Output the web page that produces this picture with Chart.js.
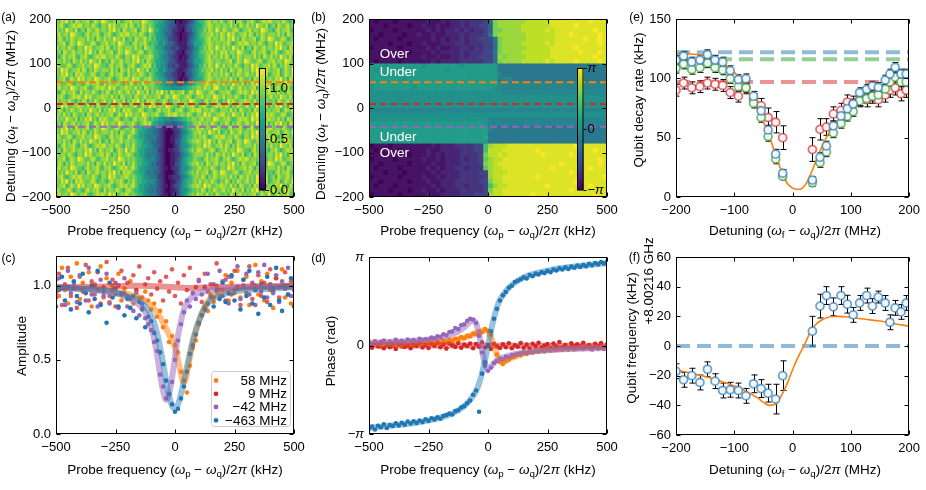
<!DOCTYPE html>
<html>
<head>
<meta charset="utf-8">
<title>Probe spectroscopy figure</title>
<script src="https://cdn.jsdelivr.net/npm/chart.js@4.4.1/dist/chart.umd.min.js"></script>
<style>
html,body{margin:0;padding:0;background:#ffffff;}
#wrap{position:relative;width:926px;height:490px;overflow:hidden;background:#fff;}
#wrap canvas{position:absolute;left:0;top:0;}
</style>
</head>
<body>
<div id="wrap">
<canvas id="pa" width="926" height="490"></canvas>
<canvas id="pb" width="926" height="490"></canvas>
<canvas id="pc" width="926" height="490"></canvas>
<canvas id="pd" width="926" height="490"></canvas>
<canvas id="pe" width="926" height="490"></canvas>
<canvas id="pf" width="926" height="490"></canvas>
</div>
<script>
// ===================== DATA =====================
const probeTicks = [-500, -250, 0, 250, 500];
const detTicks = [-200, -100, 0, 100, 200];
const ampTicks = [0, 0.5, 1.0];
const phaseTicks = [-Math.PI, 0, Math.PI];
const gammaTicks = [0, 50, 100, 150];
const freqTicks = [-60, -40, -20, 0, 20, 40, 60];
const cutDetunings = [58, 9, -42];               // MHz, dashed cuts in (a),(b)
const legendLabels = ['58 MHz', '9 MHz', '\u221242 MHz', '\u2212463 MHz'];

// (a) amplitude map: rows from +200 MHz (top) to -200 MHz, 10 MHz each;
// 100 columns -500..500 kHz (10 kHz each); letter a..m = 0.0..1.2
const ampMapRows = [
"kjlkmjkilk jkklijlkjm lkjjklkijk kljkkjmlkj jiihhgfeed bbabbcdegh iijkljkkjl jikljkklji kkljijklkl ljkkjlkjik",
"kkljijklkl ljkkjlkjik kjmkljjkkl jlkikjlkjk jihhggfedd cbbbcdefgh hijklkjkkj kkjljkilkj ljkjmkkjli jkilkjkljk",
"ljkjmkkjli jkilkjkljk kjlkmjkilk jkklijlkjm kiihgffedc cbbacddfgh iikjlkjmkj lkjjklkijk kljkkjmlkj jikljkklji",
"kljkkjmlkj jikljkklji kkljijklkl ljkkjlkjik jihhgfeedc bbabbcdegh ijjkkljkjl kjmkljjkkl jlkikjlkjk kkjljkilkj",
"jlkikjlkjk kkjljkilkj ljkjmkkjli jkilkjkljk ijhhggfddc cbabbcefgh iijkljkkjl kjlkmjkilk jkklijlkjm lkjjklkijk",
"jkklijlkjm lkjjklkijk kljkkjmlkj jikljkklji jiigghfeed cbbbbdefhh hijklkjkkj kkljijklkl ljkkjlkjik kjmkljjkkl",
"ljkkjlkjik kjmkljjkkl jlkikjlkjk kkjljkilkj jihhgfeedc dcbbbcdegg iikjlkjmkj ljkjmkkjli jkilkjkljk kjlkmjkilk",
"jkilkjkljk kjlkmjkilk jkklijlkjm lkjjklkijk jiihhgfeed cbbacddfgh ijjkkljkjl kljkkjmlkj jikljkklji kkljijklkl",
"jikljkklji kkljijklkl ljkkjlkjik kjmkljjkkl kiihgffedc cbabbcefgh iijkljkkjl jlkikjlkjk kkjljkilkj ljkjmkkjli",
"kkjljkilkj ljkjmkkjli jkilkjkljk kjlkmjkilk jihhggfedd cbbbbdefhh hijklkjkkj jkklijlkjm lkjjklkijk kljkkjmlkj",
"lkjjklkijk kljkkjmlkj jikljkklji kkljijklkl ijhhggfddc dcbbbcdegg iikjlkjmkj ljkkjlkjik kjmkljjkkl jlkikjlkjk",
"kjmkljjkkl jlkikjlkjk kkjljkilkj ljkjmkkjli jiigghfeed cbbbcdefgh ijjkkljkjl jkilkjkljk kjlkmjkilk jkklijlkjm",
"kjlkmjkilk lkjjklkijk jikljkklji ljkkjlkjik jihhgfeedc cbbacddfgh iijkljkkjl jlkikjlkjk ljkjmkkjli jkklijlkjm",
"jkklijlkjm kljkkjmlkj kkljijklkl kjmkljjkkl jiihhgfeed cbabbcefgh hijklkjkkj kkjljkilkj jkilkjkljk kjlkmjkilk",
"lkjjklkijk jikljkklji ljkkjlkjik jlkikjlkjk kjiihhggff eddefgghij jjklkjlkkj ljkjmkkjli kjlkmjkilk kljkkjmlkj",
"kljkkjmlkj kkljijklkl kjmkljjkkl kkjljkilkj kjjiihhhgg ggghhiijjk kjlkkjlmkj jkilkjkljk jkklijlkjm jikljkklji",
"jikljkklji ljkkjlkjik jlkikjlkjk ljkjmkkjli kjlkmjkilk jkklijlkjm lkjjklkijk kkljijklkl kjmkljjkkl kkjljkilkj",
"kkljijklkl kjmkljjkkl kkjljkilkj jkilkjkljk jkklijlkjm lkjjklkijk kljkkjmlkj ljkkjlkjik jlkikjlkjk ljkjmkkjli",
"ljkkjlkjik jlkikjlkjk ljkjmkkjli kjlkmjkilk lkjjklkijk kljkkjmlkj jikljkklji kjmkljjkkl kkjljkilkj jkilkjkljk",
"kjmkljjkkl kkjljkilkj jkilkjkljk jkklijlkjm kljkkjmlkj jikljkklji kkljijklkl jlkikjlkjk ljkjmkkjli kjlkmjkilk",
"jlkikjlkjk ljkjmkkjli kjlkmjkilk lkjjklkijk jikljkklji kkljijklkl ljkkjlkjik kkjljkilkj jkilkjkljk jkklijlkjm",
"kkjljkilkj jkilkjkljk jkklijlkjm kljkkjmlkj kkljijklkl ljkkjlkjik kjmkljjkkl ljkjmkkjli kjlkmjkilk lkjjklkijk",
"ljkjmkkjli kjlkmjkilk lkjjklkijk jikljkklji jiihhgggfg ghhiijjkkj kljkkjmlkj kkljijklkl kjmkljjkkl kkjljkilkj",
"jkilkjkljk jkklijlkjm kljkkjmlkj kkljijklkl ihhggfeeed effghiijkk ljkkjlkjik jlkikjlkjk ljkjmkkjli kjlkmjkilk",
"kjlkmjkilk jkklijlkjm lkjjklkijk kjljiihhgg ffedcbbabc cdfghijkjl kljkkjmlkj jikljkklji kkljijklkl ljkkjlkjik",
"kjmkljjkkl jlkikjlkjk kkjljkilkj jkljihhggf feedcbaaab ccefghijkk ljkjmkkjli jkilkjkljk kjlkmjkilk jkklijlkjm",
"lkjjklkijk kljkkjmlkj jikljkklji lkjiihhgff ffedcbaabb cdeghiijkj kkljijklkl ljkkjlkjik kjmkljjkkl jlkikjlkjk",
"kkjljkilkj ljkjmkkjli jkilkjkljk kjkjiihggf efddcbaabb ddfghijkkl kjlkmjkilk jkklijlkjm lkjjklkijk kljkkjmlkj",
"jikljkklji kkljijklkl ljkkjlkjik kjljiihhgg feedcbaaab cdfgghijjk kjmkljjkkl jlkikjlkjk kkjljkilkj ljkjmkkjli",
"jkilkjkljk kjlkmjkilk jkklijlkjm jkljihhggf ffeccbabbc cdfghijkjl lkjjklkijk kljkkjmlkj jikljkklji kkljijklkl",
"ljkkjlkjik kjmkljjkkl jlkikjlkjk lkjiihhgff ffedcbaabb ccefghijkk kkjljkilkj ljkjmkkjli jkilkjkljk kjlkmjkilk",
"jkklijlkjm lkjjklkijk kljkkjmlkj kjkjiihggf gfedcbaabb cdeghiijkj jikljkklji kkljijklkl ljkkjlkjik kjmkljjkkl",
"jlkikjlkjk kkjljkilkj ljkjmkkjli kjljiihhgg efddcbaabb ddfghijkkl jkilkjkljk kjlkmjkilk jkklijlkjm lkjjklkijk",
"kljkkjmlkj jikljkklji kkljijklkl jkljihhggf ffedcbbabc cdfgghijjk ljkkjlkjik kjmkljjkkl jlkikjlkjk kkjljkilkj",
"ljkjmkkjli jkilkjkljk kjlkmjkilk lkjiihhgff feedcbaaab cdfghijkjl jkklijlkjm lkjjklkijk kljkkjmlkj jikljkklji",
"kkljijklkl ljkkjlkjik kjmkljjkkl kjkjiihggf ffeccbabbc ccefghijkk jlkikjlkjk kkjljkilkj ljkjmkkjli jkilkjkljk",
"kjlkmjkilk lkjjklkijk jikljkklji kjljiihhgg gfedcbaabb cdeghiijkj ljkkjlkjik jlkikjlkjk ljkjmkkjli jkklijlkjm",
"jkklijlkjm kljkkjmlkj kkljijklkl jkljihhggf ffedcbbabc ddfghijkkl kjmkljjkkl kkjljkilkj jkilkjkljk kjlkmjkilk",
"lkjjklkijk jikljkklji ljkkjlkjik lkjiihhgff efddcbaabb cdfgghijjk jlkikjlkjk ljkjmkkjli kjlkmjkilk kljkkjmlkj",
"kljkkjmlkj kkljijklkl kjmkljjkkl kjkjiihggf ffedcbbabc cdfghijkjl kkjljkilkj jkilkjkljk jkklijlkjm jikljkklji"
];

// (b) phase map: rows +200..-200 MHz (10 MHz), 50 columns (20 kHz); letter a..u = -pi..+pi
const phaseMapRows = [
"babbbabbbb bbcbbcbccd cdddehqrrr rrrssssstt ttttttuttt",
"bbbabbbbab bcbbcbbccd cddeegqrrr rrsssssstt tttutttttt",
"abbbbabbbb bbcbcbccdc dcddegqqrr rrssssstst tttttttutt",
"bbabbbbabb cbbcbbcccd cdddehqrrr rrrsssssst ttutttttut",
"babbbbabbb bbbcbcbccd cddeeeiqrr rrrsssssst tttttuttut",
"bbbbabbbab bcbbbcccdd cdddeehqrr rrssssstst ttttttttut",
"abbbbbabbb bbcbcbbccd dcddeehqrr rrrssssstt tttutttttt",
"bbabbbbbab bbbcbccccd cdddeeiqrr rrsssssstt ttttutttut",
"bbbabbbabb bcbbcbbccd cddeeehrqr rrrssssstt tttttttutt",
"babbbbabbb bbbcbccccd ddddeehqrr rrssssstst tttuttttut",
"lllkllllll lklllllllk llllllliii iiiiiiiiii iiiiiiiiii",
"lkllllllll llllllklll llllllliii iiiiiiiiii iiiiiiiiii",
"llllllllll llllllllll llllllljii iiiiiiiiii iiiiiiiiii",
"lllllllkll llllllllll lllllllijj iiiiiiiiii iiiiiiiiii",
"llllllllll llllllllll lllllllkjj jjjjjjjjjj jjjjjjjjjj",
"kllllllllk llllllllll llllllkjjj jjjjjjjjjj jjjjjjjjjj",
"kkkkkkkkkk kkkkkkkkkk kkkkkkkkjj jjjjjjjjjj jjjjjjjjjj",
"kkkkkkkkkk kkkkkkkkkk kkkkkkkkkk kkkkkkkkkk kkkkkkkkkk",
"kkkkkkkkkk kkkkkkkkkk kkkkkkkkkk kkkkkkkkkk kkkkkkkkkk",
"kkkkkkkkkk kkkkkkkkkk kkkkkkkkkk kkkkkkkkkk kkkkkkkkkk",
"jjjjjjjjjj jjjjjjjjjj jjjjjjjjjj jjjjjjjjjj jjjjjjjjjj",
"kkkkkkkkkk kkkkkkkkkk kkkkkkkkkk kkkkkkkkkk kkkkkkkkkk",
"kkkkkkkkkk kkkkkkkkkk kkkkkjjjjj jjjjjjjjjj jjjjjjjjjj",
"llllllllll llllllllll llllkjjjjj jjjjjjjjjj jjjjjjjjjj",
"llllllllll llllllllll llllljiiii iiiiiiiiii iiiiiiiiii",
"llllllllll llllllllll llllliiiii iiiiiiiiii iiiiiiiiii",
"llllllllll llllllllll llllmiiiii iiiiiiiiii iiiiiiiiii",
"llllllllll llllllllll llllliiiii iiiiiiiiii iiiiiiiiii",
"abbbabbbbb bbbcbcccdd ddeeorssst tttttttttt tttutttttt",
"babbbbabbb bbcbbccccd ddeeossstt tttttutttt tttttttutt",
"bbbabbbbab bbcbcbcccd dddeqsstst ttttttuttt ttuttttttt",
"abbbbabbbb bcbbcbcccd cddeprsstt tttttttttt ttttutttut",
"bbabbbbbab bbbcbbcccd dddeqrsttt tttttttttt utttttttut",
"babbbbabbb bbcbcbccdd cdddprsstt ttttttttut ttttttuttt",
"bbbabbbabb bbbcbccccd dddeerssst tttttttttt ttuttttttt",
"abbbbbabbb bcbbcbcccd ddddersstt tttttutttt tttttttttu",
"bbabbbbbab bbcbbcccdd dddeeqsstt tttttttttt tttutttttt",
"babbbabbbb bbbcbcccdd cdddeorsst tttttttutt ttttttuttt",
"bbbbabbbab bcbbcbcccd ddddeqsstt tttttttttt ttuttttttt",
"abbbbbabbb bbcbbccccd ddeeersstt ttttuttttt tttttttutt"
];

// (c),(d) probe sweep (kHz)
const probeX = [-500,-487.5,-475,-462.5,-450,-437.5,-425,-412.5,-400,-387.5,-375,-362.5,-350,-337.5,-325,-312.5,-300,-287.5,-275,-262.5,-250,-237.5,-225,-212.5,-200,-187.5,-175,-162.5,-150,-137.5,-125,-112.5,-100,-87.5,-75,-62.5,-50,-37.5,-25,-12.5,0,12.5,25,37.5,50,62.5,75,87.5,100,112.5,125,137.5,150,162.5,175,187.5,200,212.5,225,237.5,250,262.5,275,287.5,300,312.5,325,337.5,350,362.5,375,387.5,400,412.5,425,437.5,450,462.5,475,487.5,500];

const amp58 = [1.04,0.93,1.12,0.97,0.88,1.06,0.99,1.15,0.91,1.02,0.95,1.09,0.86,1.01,0.97,1.13,0.92,1.05,0.89,1.0,0.94,1.08,0.9,0.98,0.93,1.03,0.88,0.97,0.92,0.85,0.96,0.9,0.84,0.88,0.79,0.83,0.72,0.76,0.62,0.66,0.6,0.55,0.42,0.36,0.28,0.46,0.58,0.63,0.74,0.8,0.86,0.83,0.94,0.89,1.0,0.93,0.97,1.07,0.9,1.02,0.95,1.1,0.92,0.99,1.06,0.87,1.01,1.14,0.94,1.03,0.9,1.08,0.97,0.85,1.05,0.99,1.11,0.92,1.0,0.88,1.04];
const amp9 = [0.95,1.08,0.87,1.01,1.12,0.93,0.98,0.85,1.06,0.96,1.14,0.9,1.03,0.94,1.09,0.88,0.99,1.16,0.93,1.04,0.86,1.0,1.1,0.95,1.02,0.91,1.07,0.97,1.13,0.92,1.01,1.05,0.94,1.09,0.98,1.03,0.9,1.06,0.96,1.11,0.93,1.02,0.88,1.07,0.97,1.12,0.95,0.99,1.04,0.89,1.08,0.96,1.01,0.92,1.15,0.97,1.03,0.9,1.06,0.94,1.1,0.98,0.87,1.04,0.95,1.13,0.91,1.0,1.07,0.93,1.02,0.89,1.11,0.96,1.05,0.92,1.0,1.09,0.94,1.03,0.97];
const ampM42 = [0.92,1.05,0.98,0.87,1.1,0.95,1.02,0.89,1.07,0.97,0.9,1.12,0.94,1.0,0.86,1.04,0.93,1.08,0.88,0.97,1.02,0.85,0.94,1.05,0.86,0.92,0.83,0.95,0.8,0.88,0.78,0.74,0.7,0.62,0.56,0.4,0.32,0.24,0.27,0.35,0.5,0.63,0.74,0.82,0.9,0.86,0.95,0.91,1.03,0.94,0.99,1.08,0.92,1.01,0.96,1.1,0.93,1.04,0.88,1.06,0.97,1.13,0.91,1.0,1.08,0.94,1.02,0.87,1.09,0.96,1.14,0.92,1.01,0.95,1.07,0.89,1.03,0.98,1.12,0.93,1.0];
const ampM463 = [0.86,0.97,1.06,0.9,0.99,0.84,1.03,0.93,0.88,1.08,0.95,0.82,1.0,0.91,1.1,0.87,0.96,0.75,1.02,0.92,0.98,0.86,0.95,0.8,0.91,0.85,0.93,0.78,0.89,0.84,0.72,0.79,0.76,0.68,0.63,0.55,0.47,0.36,0.27,0.2,0.15,0.17,0.24,0.32,0.42,0.54,0.6,0.67,0.75,0.8,0.84,0.88,0.93,0.86,0.97,0.91,1.02,0.89,0.95,1.07,0.9,0.99,0.84,1.04,0.93,1.1,0.88,0.97,0.81,1.01,0.92,1.06,0.87,0.98,1.12,0.9,0.83,1.0,0.94,1.05,0.86];

const fitAmpX58 = [-500,-400,-300,-200,-150,-100,-75,-50,-25,0,12.5,25,35,45,55,65,80,100,125,150,200,250,300,400,500];
const fitAmpY58 = [0.985,0.98,0.97,0.945,0.92,0.865,0.82,0.75,0.67,0.58,0.5,0.41,0.35,0.37,0.45,0.54,0.65,0.76,0.86,0.92,0.96,0.975,0.985,0.99,0.995];
const fitAmpX9 = [-500,-300,-150,-50,0,50,150,300,500];
const fitAmpY9 = [0.99,0.995,1.0,0.995,0.99,0.985,0.99,0.995,1.0];
const fitAmpXm42 = [-500,-400,-300,-250,-200,-150,-125,-100,-87.5,-75,-62.5,-50,-37.5,-25,-12.5,0,12.5,25,37.5,50,75,100,150,250,500];
const fitAmpYm42 = [0.99,0.98,0.96,0.95,0.92,0.87,0.82,0.72,0.64,0.53,0.4,0.29,0.23,0.27,0.38,0.52,0.66,0.76,0.84,0.88,0.93,0.95,0.97,0.985,0.995];
const fitAmpXm463 = [-500,-400,-300,-250,-200,-150,-125,-100,-75,-50,-37.5,-25,-12.5,0,12.5,25,50,75,100,125,150,200,250,300,400,500];
const fitAmpYm463 = [0.99,0.98,0.97,0.955,0.93,0.9,0.86,0.8,0.68,0.48,0.36,0.26,0.19,0.17,0.2,0.27,0.45,0.63,0.76,0.85,0.9,0.94,0.96,0.97,0.98,0.99];

const ph58 = [0.08,-0.02,0.1,0.03,-0.05,0.12,0.0,0.06,-0.03,0.09,0.04,-0.04,0.11,0.02,0.07,-0.01,0.1,0.05,0.13,0.03,0.09,0.14,0.06,0.16,0.1,0.18,0.13,0.2,0.17,0.24,0.21,0.3,0.26,0.34,0.33,0.42,0.4,0.5,0.47,0.58,0.52,0.38,0.05,-0.32,-0.58,-0.66,-0.55,-0.5,-0.43,-0.4,-0.33,-0.35,-0.27,-0.3,-0.22,-0.25,-0.18,-0.2,-0.15,-0.19,-0.12,-0.16,-0.1,-0.14,-0.08,-0.13,-0.06,-0.1,-0.04,-0.11,-0.07,-0.02,-0.09,-0.05,0.0,-0.08,-0.03,-0.06,0.01,-0.07,-0.04];
const ph9 = [0.05,-0.08,0.1,-0.03,0.12,-0.1,0.02,-0.06,0.08,-0.12,0.04,0.09,-0.05,0.0,-0.1,0.07,-0.02,0.11,-0.07,0.03,-0.09,0.06,-0.01,0.1,-0.06,0.04,-0.11,0.08,0.01,-0.05,0.09,-0.08,0.03,-0.02,0.07,-0.1,0.05,-0.04,0.11,-0.07,0.02,-0.12,0.06,-0.03,-0.09,0.04,-0.06,0.08,-0.1,0.01,-0.04,0.09,-0.08,0.03,-0.11,0.06,-0.02,0.1,-0.07,0.0,0.05,-0.09,0.07,-0.04,0.12,-0.06,0.02,-0.1,0.08,-0.03,0.04,-0.08,0.1,-0.05,0.01,-0.11,0.06,-0.02,0.09,-0.07,0.03];
const phM42 = [0.12,0.05,0.15,0.08,0.1,0.18,0.06,0.14,0.1,0.2,0.12,0.17,0.09,0.21,0.15,0.19,0.13,0.24,0.18,0.22,0.2,0.28,0.25,0.33,0.3,0.4,0.36,0.48,0.5,0.62,0.58,0.72,0.75,0.88,0.95,0.92,0.8,0.35,-0.25,-0.72,-0.9,-0.78,-0.62,-0.55,-0.46,-0.5,-0.4,-0.42,-0.35,-0.33,-0.3,-0.28,-0.25,-0.27,-0.22,-0.24,-0.19,-0.21,-0.17,-0.2,-0.15,-0.18,-0.13,-0.16,-0.12,-0.15,-0.1,-0.14,-0.09,-0.13,-0.11,-0.08,-0.12,-0.07,-0.1,-0.14,-0.06,-0.11,-0.08,-0.12,-0.09];
const phM463 = [-2.95,-2.88,-2.98,-2.85,-2.9,-2.8,-2.93,-2.82,-2.86,-2.76,-2.84,-2.74,-2.81,-2.7,-2.77,-2.69,-2.75,-2.66,-2.72,-2.62,-2.68,-2.58,-2.63,-2.55,-2.6,-2.5,-2.47,-2.42,-2.45,-2.33,-2.3,-2.2,-2.16,-2.05,-1.95,-1.75,-1.6,-2.35,-1.0,-0.6,-0.02,0.5,0.95,1.3,1.6,1.78,1.9,2.05,2.12,2.25,2.3,2.35,2.42,2.38,2.5,2.46,2.55,2.52,2.6,2.57,2.65,2.6,2.7,2.66,2.74,2.7,2.78,2.72,2.8,2.76,2.84,2.79,2.86,2.81,2.9,2.85,2.93,2.88,2.96,2.91,2.97];

const fitPhX58 = [-500,-400,-300,-200,-150,-100,-75,-50,-25,-12.5,0,12.5,25,37.5,50,62.5,75,100,125,150,200,250,300,400,500];
const fitPhY58 = [0.05,0.06,0.08,0.12,0.18,0.28,0.35,0.44,0.52,0.54,0.48,0.3,0.0,-0.33,-0.55,-0.6,-0.55,-0.44,-0.35,-0.28,-0.2,-0.15,-0.12,-0.08,-0.06];
const fitPhX9 = [-500,-250,0,250,500];
const fitPhY9 = [0.01,0.0,0.0,-0.01,-0.01];
const fitPhXm42 = [-500,-400,-300,-200,-150,-125,-100,-87.5,-75,-62.5,-50,-37.5,-25,-12.5,0,12.5,25,37.5,50,75,100,150,200,250,300,400,500];
const fitPhYm42 = [0.1,0.13,0.18,0.28,0.4,0.5,0.65,0.75,0.85,0.88,0.78,0.4,-0.2,-0.65,-0.82,-0.75,-0.62,-0.53,-0.47,-0.39,-0.33,-0.25,-0.2,-0.17,-0.14,-0.11,-0.09];
const fitPhXm463 = [-500,-400,-300,-250,-200,-150,-100,-75,-50,-37.5,-25,-12.5,0,12.5,25,37.5,50,75,100,150,200,250,300,400,500];
const fitPhYm463 = [-2.92,-2.84,-2.74,-2.66,-2.56,-2.42,-2.15,-1.93,-1.62,-1.35,-0.98,-0.52,0,0.52,0.98,1.35,1.62,1.93,2.15,2.42,2.56,2.66,2.74,2.84,2.92];

// (e),(f) flux detuning points (MHz)
const detuning = [-200,-187,-173,-159,-146,-133,-120,-107,-93,-80,-67,-54,-42,-29,-17,34,47,58,70,83,94,104,115,127,137,147,159,167,176,186,195];
const gammaBlue = [115.4,118.8,113.8,115.4,120,115.4,113.8,106.5,99,99.7,85,72.7,56.5,36.2,20,14.3,33.4,43,60,68.3,74.4,78.4,88,90.7,93.5,92.4,98.6,103.7,109.3,103.7,103.7];
const gammaBlueErr = [4,4,4,4,4,4,4,4,4,4,4,4,4,4,3,3,4,4,4,4,4,4,4,4,4,4,4,4,4,4,4];
const gammaGreen = [108.4,112,107.5,109,113,109,107,99.7,93,92,79,67,51,32,17.5,12,29,38,54,62,68,72,81,83,85,86,91,97,101,97,97];
const gammaGreenErr = [4,4,4,4,4,4,4,4,4,4,4,4,4,4,3,3,4,4,4,4,4,4,4,4,4,4,4,4,4,4,4];
const gammaRed = [90,96,92,93,96,95,94,88,85,92,82,77,67,63,50,40,57,59,70,73,80,79,82,82,85,82,86,90,92,87,90];
const gammaRedErr = [5,5,5,5,5,5,5,5,5,5,5,6,8,9,10,10,9,7,6,6,6,6,6,6,6,6,6,6,6,6,6];
const gammaLevels = [122, 116, 97];   // blue, green, red reference rates
const gammaFitX = [-200,-175,-150,-125,-100,-90,-80,-70,-60,-50,-40,-30,-20,-10,0,5,10,15,20,25,30,40,50,60,70,80,90,100,125,150,175,200];
const gammaFitY = [121,120.5,119,114,105,100,93,84,74,63,51,37,23,12,7.5,6.8,6.5,7,9,13,18,30,42,52,59,65,71,76,85,91,95,98];

const freqShift = [-17,-22.8,-20,-24.6,-15.7,-23.7,-30,-29.5,-30,-33.6,-25.5,-28.7,-31.8,-35.8,-20,10,26.9,34,26.4,34,28.2,21,29,34,26.9,33,29,16,25.7,23,29];
const freqShiftErr = [5,5,5,5,5,5,5,5,5,5,6,6,6,10,10,10,8,6,6,6,6,5,5,5,5,4,5,5,5,5,5];
const freqLevel = 0;
const freqFitX = [-200,-150,-100,-80,-60,-50,-40,-30,-20,-10,0,10,20,30,40,50,60,70,80,100,125,150,175,200];
const freqFitY = [-16,-20.6,-27,-30.5,-35,-38,-40,-39.5,-34,-26,-16,-7,0.5,9,14.5,17.5,19.2,19.9,20,19.2,18,16.8,15,13.4];

// ===================== STYLE / HELPERS =====================
const FONT = '"Liberation Sans", Arial, Helvetica, sans-serif';
Chart.defaults.font.family = FONT;
Chart.defaults.font.size = 13;
Chart.defaults.color = '#000';
const TAB = {blue:'#1f77b4', orange:'#ff7f0e', green:'#2ca02c', red:'#d62728', purple:'#9467bd'};
function rgba(hex, a){
  const r=parseInt(hex.slice(1,3),16), g=parseInt(hex.slice(3,5),16), b=parseInt(hex.slice(5,7),16);
  return 'rgba('+r+','+g+','+b+','+a+')';
}
const VIR = ['#440154','#482475','#414487','#355f8d','#2a788e','#21918c','#22a884','#44bf70','#7ad151','#bddf26','#fde725']
  .map(h=>[parseInt(h.slice(1,3),16),parseInt(h.slice(3,5),16),parseInt(h.slice(5,7),16)]);
function viridis(t){
  t=Math.max(0,Math.min(1,t));
  const p=t*(VIR.length-1); const i=Math.min(Math.floor(p),VIR.length-2); const f=p-i;
  const a=VIR[i], b=VIR[i+1];
  return 'rgb('+Math.round(a[0]+(b[0]-a[0])*f)+','+Math.round(a[1]+(b[1]-a[1])*f)+','+Math.round(a[2]+(b[2]-a[2])*f)+')';
}
const ampDecode = ch => (ch.charCodeAt(0)-97)*0.1;
const phaseDecode = ch => -Math.PI + (ch.charCodeAt(0)-97)*Math.PI/10;
const fmtInt = v => (v<0 ? '\u2212'+Math.abs(v) : String(v));
const fmt1 = v => Number(v).toFixed(1);
const fmtPi = v => (v>0.1 ? '\u03c0' : (v<-0.1 ? '\u2212\u03c0' : '0'));

const T_PROBE = [['Probe frequency ('],['\u03c9','i'],['p','s'],[' \u2212 '],['\u03c9','i'],['q','s'],[')/2'],['\u03c0','i'],[' (kHz)']];
const T_DET = [['Detuning ('],['\u03c9','i'],['f','s'],[' \u2212 '],['\u03c9','i'],['q','s'],[')/2'],['\u03c0','i'],[' (MHz)']];
const ROT = -Math.PI/2;

function richText(ctx, s){
  const size = s.size || 13.5;
  const parts = s.segs.map(seg=>{
    const st = seg[1] || '';
    const sub = st.indexOf('s')>=0, it = st.indexOf('i')>=0;
    const fs = sub ? size*0.72 : size;
    const font = (it?'italic ':'') + fs + 'px ' + FONT;
    ctx.font = font;
    return {t:seg[0], font:font, w:ctx.measureText(seg[0]).width, dy: sub ? size*0.24 : 0};
  });
  const W = parts.reduce((a,p)=>a+p.w,0);
  ctx.save();
  ctx.translate(s.x, s.y);
  if (s.rot) ctx.rotate(s.rot);
  let cx = s.align==='left' ? 0 : (s.align==='right' ? -W : -W/2);
  ctx.textAlign='left'; ctx.textBaseline='alphabetic';
  ctx.fillStyle = s.color || '#000';
  const base = size*0.36;
  parts.forEach(p=>{ ctx.font=p.font; ctx.fillText(p.t, cx, base+p.dy); cx+=p.w; });
  ctx.restore();
}

function clipArea(chart){
  const ca=chart.chartArea, ctx=chart.ctx;
  ctx.beginPath(); ctx.rect(ca.left, ca.top, ca.right-ca.left, ca.bottom-ca.top); ctx.clip();
}
function drawHeat(chart, h){
  const ctx=chart.ctx, x=chart.scales.x, y=chart.scales.y;
  ctx.save(); clipArea(chart);
  h.rows.forEach((row, r)=>{
    const s=row.replace(/\s+/g,'');
    const yTop=h.ymax - r*h.dy, yBot=yTop-h.dy;
    const py0=y.getPixelForValue(yTop), py1=y.getPixelForValue(yBot);
    const n=s.length, w=(h.xmax-h.xmin)/n;
    for(let c=0;c<n;c++){
      const v=h.decode(s[c]);
      const px0=x.getPixelForValue(h.xmin+c*w), px1=x.getPixelForValue(h.xmin+(c+1)*w);
      ctx.fillStyle=viridis((v-h.vmin)/(h.vmax-h.vmin));
      ctx.fillRect(px0, py0, px1-px0+0.7, py1-py0+0.7);
    }
  });
  ctx.restore();
}
function drawCbar(chart, c){
  const ctx=chart.ctx; ctx.save();
  const H=c.y1-c.y0, N=120;
  for(let i=0;i<N;i++){
    ctx.fillStyle=viridis(1-(i+0.5)/N);
    ctx.fillRect(c.x0, c.y0+i*H/N, c.x1-c.x0, H/N+0.6);
  }
  ctx.strokeStyle='#000'; ctx.lineWidth=1;
  ctx.strokeRect(c.x0+0.5, c.y0+0.5, c.x1-c.x0-1, H-1);
  ctx.textAlign='left'; ctx.textBaseline='middle'; ctx.fillStyle='#000';
  c.ticks.forEach(v=>{
    const py=c.y1-(v-c.vmin)/(c.vmax-c.vmin)*H;
    ctx.beginPath(); ctx.moveTo(c.x1, Math.round(py)+0.5); ctx.lineTo(c.x1+3, Math.round(py)+0.5); ctx.stroke();
    const lab=c.fmt(v);
    ctx.font=(c.italic && Math.abs(v)>0.1 ? 'italic ' : '')+'13px '+FONT;
    ctx.fillText(lab, c.x1+4, py+(c.dy||0));
  });
  ctx.restore();
}
function drawErr(chart){
  const ctx=chart.ctx, x=chart.scales.x, y=chart.scales.y;
  ctx.save(); clipArea(chart);
  ctx.strokeStyle='#000'; ctx.lineWidth=1;
  chart.data.datasets.forEach(ds=>{
    if(!ds.errors) return;
    ds.data.forEach((p,j)=>{
      const e=ds.errors[j];
      const px=Math.round(x.getPixelForValue(p.x))+0.5;
      const a=y.getPixelForValue(p.y-e), b=y.getPixelForValue(p.y+e);
      ctx.beginPath();
      ctx.moveTo(px,a); ctx.lineTo(px,b);
      ctx.moveTo(px-3,a); ctx.lineTo(px+3,a);
      ctx.moveTo(px-3,b); ctx.lineTo(px+3,b);
      ctx.stroke();
    });
  });
  ctx.restore();
}
function drawFrame(chart){
  const ctx=chart.ctx, ca=chart.chartArea, x=chart.scales.x, y=chart.scales.y;
  ctx.save(); ctx.strokeStyle='#000'; ctx.lineWidth=1;
  const L=Math.round(ca.left)+0.5, R=Math.round(ca.right)-0.5, T=Math.round(ca.top)+0.5, B=Math.round(ca.bottom)-0.5;
  ctx.beginPath();
  x.ticks.forEach(t=>{ const p=Math.round(x.getPixelForValue(t.value))+0.5; ctx.moveTo(p,B); ctx.lineTo(p,B-4); ctx.moveTo(p,T); ctx.lineTo(p,T+4); });
  y.ticks.forEach(t=>{ const p=Math.round(y.getPixelForValue(t.value))+0.5; ctx.moveTo(L,p); ctx.lineTo(L+4,p); ctx.moveTo(R,p); ctx.lineTo(R-4,p); });
  ctx.stroke();
  ctx.strokeRect(L,T,R-L,B-T);
  ctx.restore();
}
function drawAnnot(chart, list){
  const ctx=chart.ctx, x=chart.scales.x, y=chart.scales.y;
  list.forEach(a=>richText(ctx,{segs:[[a.t]], x:x.getPixelForValue(a.x), y:y.getPixelForValue(a.y), align:'left', color:'#ffffff', size:13.5}));
}
function drawLegend(chart, L){
  const ctx=chart.ctx; ctx.save();
  const r=3, x0=L.x0+0.5, y0=L.y0+0.5, x1=L.x1-0.5, y1=L.y1-0.5;
  ctx.beginPath();
  ctx.moveTo(x0+r,y0); ctx.lineTo(x1-r,y0); ctx.quadraticCurveTo(x1,y0,x1,y0+r);
  ctx.lineTo(x1,y1-r); ctx.quadraticCurveTo(x1,y1,x1-r,y1);
  ctx.lineTo(x0+r,y1); ctx.quadraticCurveTo(x0,y1,x0,y1-r);
  ctx.lineTo(x0,y0+r); ctx.quadraticCurveTo(x0,y0,x0+r,y0);
  ctx.closePath();
  ctx.fillStyle='rgba(255,255,255,0.8)'; ctx.fill();
  ctx.strokeStyle='#cccccc'; ctx.lineWidth=1; ctx.stroke();
  L.items.forEach((it,i)=>{
    const yy=L.rows[i];
    ctx.fillStyle=it.color; ctx.beginPath(); ctx.arc(L.dotX, yy, 2.4, 0, Math.PI*2); ctx.fill();
    ctx.fillStyle='#000'; ctx.font='13.5px '+FONT; ctx.textAlign='right'; ctx.textBaseline='middle';
    ctx.fillText(it.label, L.textRight, yy+0.5);
  });
  ctx.restore();
}

const DECO = {};
Chart.register({
  id:'deco',
  beforeDatasetsDraw(chart){
    const o=DECO[chart.canvas.id]||{};
    if(o.heat) drawHeat(chart,o.heat);
    if(o.err) drawErr(chart);
  },
  afterDatasetsDraw(chart){
    const o=DECO[chart.canvas.id]||{};
    if(o.cbar) drawCbar(chart,o.cbar);
    if(o.annot) drawAnnot(chart,o.annot);
    drawFrame(chart);
    if(o.legend) drawLegend(chart,o.legend);
  },
  afterDraw(chart){
    const o=DECO[chart.canvas.id]||{};
    (o.texts||[]).forEach(t=>richText(chart.ctx,t));
  }
});

const P = {
  a:{l:56,r:294,t:19,b:197}, b:{l:369,r:607,t:19,b:197}, e:{l:676,r:914,t:19,b:197},
  c:{l:56,r:294,t:256,b:434}, d:{l:369,r:607,t:257,b:434}, f:{l:676,r:914,t:257,b:435}
};
function mkOptions(g, sx, sy){
  return {
    responsive:false, animation:false, events:[],
    layout:{autoPadding:false, padding:{left:g.l-50, right:926-g.r, top:g.t, bottom:490-g.b-40}},
    plugins:{legend:{display:false}, tooltip:{enabled:false}, title:{display:false}},
    scales:{
      x:{type:'linear', position:'bottom', min:sx.min, max:sx.max,
         grid:{display:false, drawTicks:false}, border:{display:false},
         ticks:{padding:6, maxRotation:0, autoSkip:false, color:'#000', font:{size:13}, callback:sx.fmt},
         afterBuildTicks:s=>{ s.ticks=sx.ticks.map(v=>({value:v})); },
         afterFit:s=>{ s.height=40; }},
      y:{type:'linear', position:'left', min:sy.min, max:sy.max,
         grid:{display:false, drawTicks:false}, border:{display:false},
         ticks:{padding:5, autoSkip:false, color:'#000', font:sy.font||{size:13}, callback:sy.fmt},
         afterBuildTicks:s=>{ s.ticks=sy.ticks.map(v=>({value:v})); },
         afterFit:s=>{ s.width=50; }}
    }
  };
}
const pts = (xs, ys) => xs.map((x,i)=>({x:x, y:ys[i]}));
function scatterDS(xs, ys, color, order){
  return {type:'scatter', data:pts(xs,ys), pointRadius:2.3, pointHoverRadius:2.3, pointBorderWidth:0,
    pointBackgroundColor:color, backgroundColor:color, borderColor:color, showLine:false, clip:0, order:order};
}
function fitDS(xs, ys, color, width, order){
  return {type:'line', data:pts(xs,ys), borderColor:color, borderWidth:width, pointRadius:0,
    cubicInterpolationMode:'monotone', fill:false, order:order, clip:0};
}
function hlineDS(level, xr, color, width, dash, order){
  return {type:'line', data:[{x:xr[0],y:level},{x:xr[1],y:level}], borderColor:color, borderWidth:width,
    borderDash:dash, borderCapStyle:'butt', pointRadius:0, fill:false, order:order, clip:0};
}
function markDS(xs, ys, errs, edge, order){
  return {type:'scatter', data:pts(xs,ys), errors:errs, pointRadius:4, pointHoverRadius:4, pointBorderWidth:1.8,
    pointBorderColor:edge, pointBackgroundColor:'#f4f6f8', borderColor:edge, backgroundColor:'#f4f6f8', showLine:false, clip:0, order:order};
}

const probeRange = [-500, 500], detRange = [-200, 200];
const CUT_COLORS = [TAB.orange, TAB.red, TAB.purple];
const SER_COLORS = [TAB.orange, TAB.red, TAB.purple, TAB.blue];

// ---------- (a) ----------
DECO.pa = {
  heat:{rows:ampMapRows, decode:ampDecode, vmin:0, vmax:1.2, xmin:-500, xmax:500, ymax:200, dy:10},
  cbar:{x0:259, x1:266, y0:68, y1:190, vmin:0, vmax:1.2, ticks:ampTicks, fmt:fmt1},
  texts:[
    {segs:[['(a)']], x:8.5, y:17, size:12},
    {segs:T_PROBE, x:175, y:230},
    {segs:T_DET, x:10, y:116, rot:ROT}
  ]
};
new Chart(document.getElementById('pa'), {type:'scatter',
  data:{datasets: cutDetunings.map((d,i)=>hlineDS(d, probeRange, CUT_COLORS[i], 2, [7,4], i))},
  options: mkOptions(P.a, {min:-500,max:500,ticks:probeTicks,fmt:fmtInt}, {min:-200,max:200,ticks:detTicks,fmt:fmtInt})});

// ---------- (b) ----------
DECO.pb = {
  heat:{rows:phaseMapRows, decode:phaseDecode, vmin:-Math.PI, vmax:Math.PI, xmin:-500, xmax:500, ymax:200, dy:10},
  cbar:{x0:577, x1:583.5, y0:68, y1:190, vmin:-Math.PI, vmax:Math.PI, ticks:phaseTicks, fmt:fmtPi, italic:true},
  annot:[{t:'Over',x:-455,y:124},{t:'Under',x:-455,y:83},{t:'Under',x:-455,y:-63},{t:'Over',x:-455,y:-99}],
  texts:[
    {segs:[['(b)']], x:318.5, y:17, size:12},
    {segs:T_PROBE, x:488, y:230},
    {segs:T_DET, x:320, y:114, rot:ROT}
  ]
};
new Chart(document.getElementById('pb'), {type:'scatter',
  data:{datasets: cutDetunings.map((d,i)=>hlineDS(d, probeRange, CUT_COLORS[i], 2, [7,4], i))},
  options: mkOptions(P.b, {min:-500,max:500,ticks:probeTicks,fmt:fmtInt}, {min:-200,max:200,ticks:detTicks,fmt:fmtInt})});

// ---------- (c) ----------
DECO.pc = {
  legend:{x0:211, y0:371, x1:291, y1:427, rows:[380.5,393.8,407,420.3], dotX:216, textRight:287,
          items: legendLabels.map((l,i)=>({label:l, color:SER_COLORS[i]}))},
  texts:[
    {segs:[['(c)']], x:8.5, y:258, size:12},
    {segs:T_PROBE, x:175, y:469},
    {segs:[['Amplitude']], x:21, y:346, rot:ROT}
  ]
};
new Chart(document.getElementById('pc'), {type:'scatter',
  data:{datasets:[
    scatterDS(probeX, amp58, TAB.orange, 7),
    scatterDS(probeX, amp9, rgba(TAB.red,0.75), 6),
    scatterDS(probeX, ampM42, TAB.purple, 5),
    scatterDS(probeX, ampM463, TAB.blue, 4),
    fitDS(fitAmpX58, fitAmpY58, rgba(TAB.orange,0.5), 6, 3),
    fitDS(fitAmpX9, fitAmpY9, rgba(TAB.red,0.5), 6, 2),
    fitDS(fitAmpXm42, fitAmpYm42, rgba(TAB.purple,0.5), 6, 1),
    fitDS(fitAmpXm463, fitAmpYm463, rgba(TAB.blue,0.45), 6, 0)
  ]},
  options: mkOptions(P.c, {min:-500,max:500,ticks:probeTicks,fmt:fmtInt}, {min:0,max:1.2,ticks:ampTicks,fmt:fmt1})});

// ---------- (d) ----------
DECO.pd = {
  texts:[
    {segs:[['(d)']], x:318.5, y:258, size:12},
    {segs:T_PROBE, x:488, y:469},
    {segs:[['Phase (rad)']], x:330.5, y:351, rot:ROT}
  ]
};
new Chart(document.getElementById('pd'), {type:'scatter',
  data:{datasets:[
    scatterDS(probeX, ph58, TAB.orange, 7),
    scatterDS(probeX, ph9, TAB.red, 6),
    scatterDS(probeX, phM42, TAB.purple, 5),
    scatterDS(probeX, phM463, TAB.blue, 4),
    fitDS(fitPhX58, fitPhY58, rgba(TAB.orange,0.5), 6, 3),
    fitDS(fitPhX9, fitPhY9, rgba(TAB.red,0.5), 6, 2),
    fitDS(fitPhXm42, fitPhYm42, rgba(TAB.purple,0.5), 6, 1),
    fitDS(fitPhXm463, fitPhYm463, rgba(TAB.blue,0.45), 6, 0)
  ]},
  options: mkOptions(P.d, {min:-500,max:500,ticks:probeTicks,fmt:fmtInt},
    {min:-Math.PI,max:Math.PI,ticks:phaseTicks,fmt:fmtPi,
     font:(c)=>({size:13, style:(c.tick && Math.abs(c.tick.value)>0.1) ? 'italic' : 'normal'})})});

// ---------- (e) ----------
DECO.pe = {
  err:true,
  texts:[
    {segs:[['(e)']], x:636.5, y:17, size:12},
    {segs:T_DET, x:795, y:230},
    {segs:[['Qubit decay rate (kHz)']], x:638, y:100, rot:ROT}
  ]
};
new Chart(document.getElementById('pe'), {type:'scatter',
  data:{datasets:[
    hlineDS(gammaLevels[0], detRange, rgba(TAB.blue,0.5), 4, [14,7], 6),
    hlineDS(gammaLevels[1], detRange, rgba(TAB.green,0.5), 4, [14,7], 5),
    hlineDS(gammaLevels[2], detRange, rgba(TAB.red,0.5), 4, [14,7], 4),
    fitDS(gammaFitX, gammaFitY, TAB.orange, 1.6, 3),
    markDS(detuning, gammaRed, gammaRedErr, rgba(TAB.red,0.65), 2),
    markDS(detuning, gammaGreen, gammaGreenErr, rgba(TAB.green,0.65), 1),
    markDS(detuning, gammaBlue, gammaBlueErr, rgba(TAB.blue,0.65), 0)
  ]},
  options: mkOptions(P.e, {min:-200,max:200,ticks:detTicks,fmt:fmtInt}, {min:0,max:150,ticks:gammaTicks,fmt:fmtInt})});

// ---------- (f) ----------
DECO.pf = {
  err:true,
  texts:[
    {segs:[['(f)']], x:634.5, y:257, size:12},
    {segs:T_DET, x:795, y:469},
    {segs:[['Qubit frequency (kHz)']], x:631, y:338, rot:ROT},
    {segs:[['+8.00216 GHz']], x:648, y:281, rot:ROT}
  ]
};
new Chart(document.getElementById('pf'), {type:'scatter',
  data:{datasets:[
    hlineDS(freqLevel, detRange, rgba(TAB.blue,0.5), 4, [14,7], 2),
    fitDS(freqFitX, freqFitY, TAB.orange, 1.6, 1),
    markDS(detuning, freqShift, freqShiftErr, rgba(TAB.blue,0.65), 0)
  ]},
  options: mkOptions(P.f, {min:-200,max:200,ticks:detTicks,fmt:fmtInt}, {min:-60,max:60,ticks:freqTicks,fmt:fmtInt})});
</script>
</body>
</html>
